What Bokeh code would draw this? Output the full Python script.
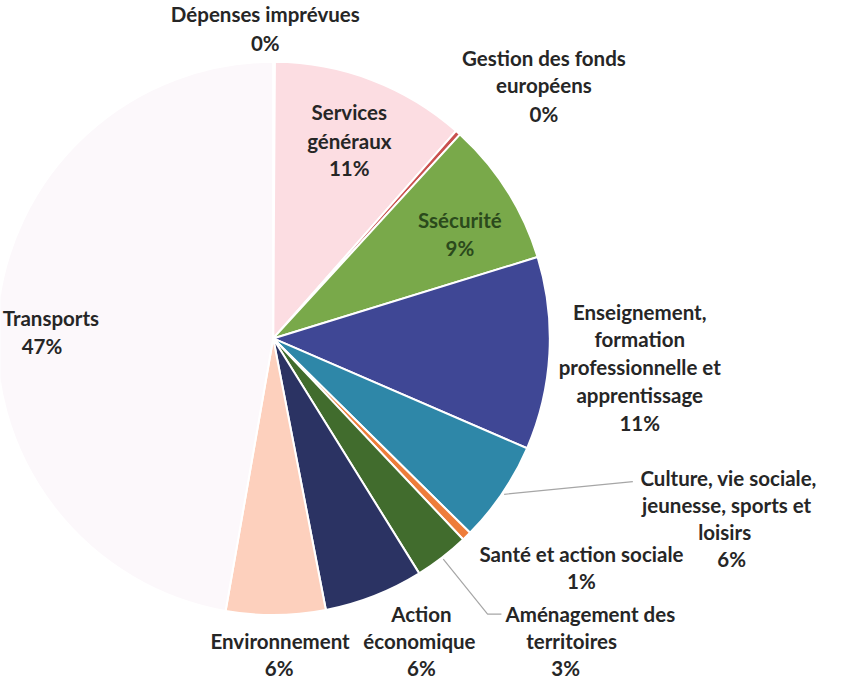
import numpy as np
from bokeh.plotting import figure
from bokeh.models import Range1d, ColumnDataSource
from bokeh.core.properties import value
from bokeh.embed import file_html
from bokeh.resources import INLINE

# ---- data (clockwise from 12 o'clock) ----
categories = ["Dépenses imprévues", "Services généraux", "Gestion des fonds européens",
              "Ssécurité", "Enseignement, formation professionnelle et apprentissage",
              "Culture, vie sociale, jeunesse, sports et loisirs", "Santé et action sociale",
              "Aménagement des territoires", "Action économique", "Environnement", "Transports"]
values = [0.1, 11.4, 0.3, 8.45, 11.25, 5.9, 0.55, 3.2, 5.8, 5.8, 47.25]
pct_labels = ["0%", "11%", "0%", "9%", "11%", "6%", "1%", "3%", "6%", "6%", "47%"]
label_lines = [["Dépenses imprévues"], ["Services", "généraux"], ["Gestion des fonds", "européens"],
               ["Ssécurité"], ["Enseignement,", "formation", "professionnelle et", "apprentissage"],
               ["Culture, vie sociale,", "jeunesse, sports et", "loisirs"], ["Santé et action sociale"],
               ["Aménagement des", "territoires"], ["Action", "économique"], ["Environnement"],
               ["Transports"]]
colors = ["#f1c4c8", "#fcdde2", "#c9504f", "#79a94a", "#3f4795", "#2e87a8", "#ee7d3a",
          "#416c2d", "#2b3363", "#fdd0bd", "#fcf8fb"]

# ---- layout helpers (reference screen px -> data) ----
W, H = 828, 679
S = 0.988
def X(sx): return (sx - 10) * S
def Y(sy): return H - (2 + (sy - 14) * S)

cx, cy, R = X(286), Y(354), 280 * S

vals = np.array(values, dtype=float)
frac = vals / vals.sum()
cum = np.concatenate([[0], np.cumsum(frac)])
start = np.pi / 2 - 2 * np.pi * cum[1:]
end = np.pi / 2 - 2 * np.pi * cum[:-1]
mid = (start + end) / 2

p = figure(width=W, height=H, output_backend="svg", toolbar_location=None,
           x_range=Range1d(0, W), y_range=Range1d(0, H), min_border=0)
p.axis.visible = False
p.grid.visible = False
p.outline_line_color = None
p.background_fill_color = "white"
p.border_fill_color = "white"

src = ColumnDataSource(dict(start=start, end=end, color=colors, cat=categories))
p.wedge(x=cx, y=cy, radius=R, start_angle="start", end_angle="end",
        fill_color="color", line_color="white", line_width=2, source=src)

# ---- leader lines (from slice edge at mid-angle to label) ----
def edge(i, r=R + 2):
    return cx + r * np.cos(mid[i]), cy + r * np.sin(mid[i])

ex, ey = edge(5)
p.line([ex, X(650)], [ey, Y(499)], line_color="#a6a6a6", line_width=1.2)
ex, ey = edge(7)
p.line([ex, X(503), X(517)], [ey, Y(633), Y(633)], line_color="#a6a6a6", line_width=1.2)

# ---- labels: line centers in reference screen px ----
label_pos = {
    0: [(278, 26)],
    1: [(363, 125), (363, 154)],
    2: [(560, 70), (560, 98)],
    3: [(475, 234)],
    4: [(657, 327), (657, 355), (657, 383), (657, 411)],
    5: [(747, 495), (745, 523), (743, 550)],
    6: [(598, 572)],
    7: [(607, 633), (588, 660)],
    8: [(436, 633), (434, 660)],
    9: [(293, 660)],
    10: [(61, 333)],
}
pct_pos = {0: (278, 55), 1: (363, 182), 2: (560, 127), 3: (475, 262), 4: (657, 440),
           5: (750, 577), 6: (598, 600), 7: (582, 688), 8: (436, 688), 9: (292, 688), 10: (52, 362)}

tx, ty, tt, tc = [], [], [], []
for i in range(len(categories)):
    col = "#2b4a1c" if i == 3 else "#262626"
    for (sx, sy), line in zip(label_pos[i], label_lines[i]):
        tx.append(X(sx)); ty.append(Y(sy)); tt.append(line); tc.append(col)
    sx, sy = pct_pos[i]
    tx.append(X(sx)); ty.append(Y(sy)); tt.append(pct_labels[i]); tc.append(col)

p.text(x=tx, y=ty, text=tt, text_color=tc, text_align="center", text_baseline="middle",
       text_font=value("Lato"), text_font_style="bold", text_font_size="20.5px")

open("out.html", "w").write(file_html(p, INLINE))
